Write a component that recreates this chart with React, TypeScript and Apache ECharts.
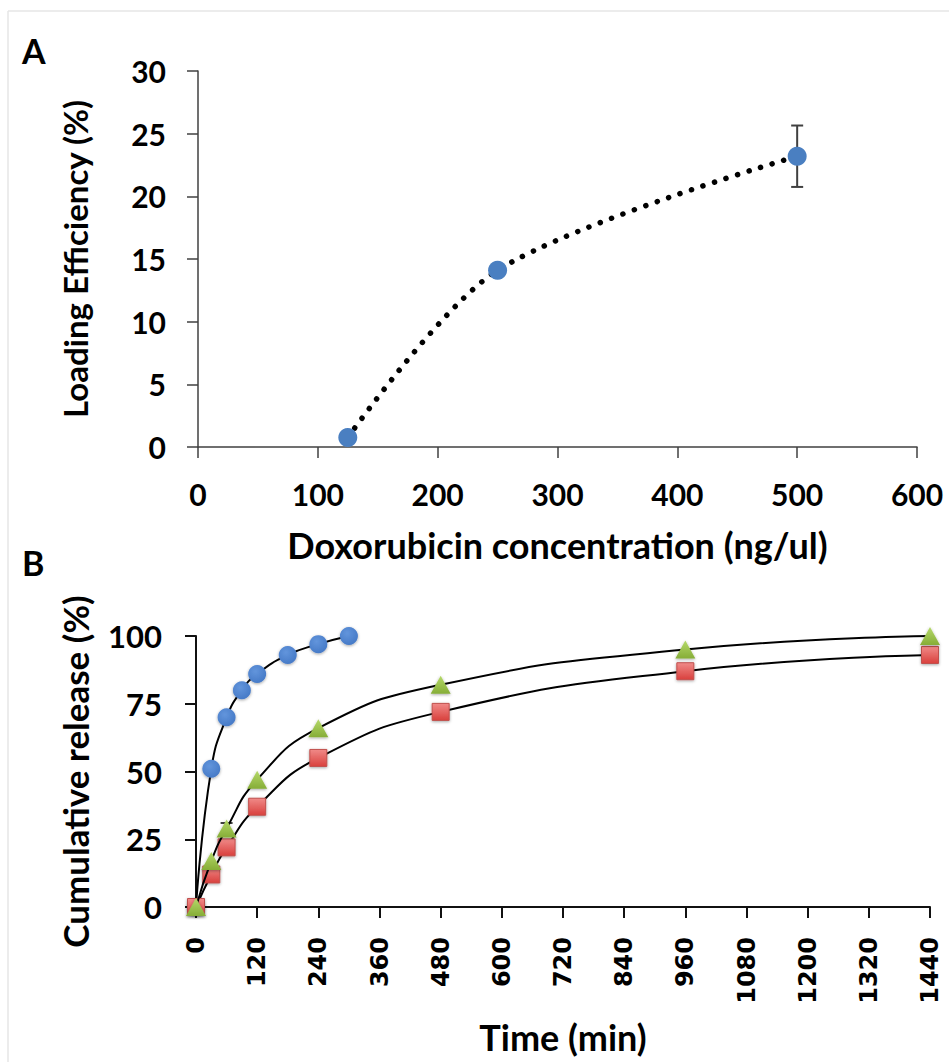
import React, { useEffect, useRef } from "react";
import * as echarts from "echarts";

// Panel A: loading efficiency
const concA = [125, 250, 500];
const effA = [0.75, 14.1, 23.2];
const effErrA = [0.2, 0.3, 2.45];

// Panel B: cumulative release
const timeBlue = [0, 30, 60, 90, 120, 180, 240, 300];
const releaseBlue = [0, 51, 70, 80, 86, 93, 97, 100];
const timeRG = [0, 30, 60, 120, 240, 480, 960, 1440];
const releaseGreen = [0, 17, 29, 47, 66, 82, 95, 100];
const releaseRed = [0, 12, 22, 37, 55, 72, 87, 93];
const errGreen = [0, 0, 2, 0, 0, 0, 0, 0];

const xTicksB = [0, 120, 240, 360, 480, 600, 720, 840, 960, 1080, 1200, 1320, 1440];

const FONT = "Lato";

function pairs(xs: number[], ys: number[]) {
  return xs.map((x, i) => [x, ys[i]]);
}

function errItem(params: any, api: any) {
  const x = api.value(0);
  const y = api.value(1);
  const e = api.value(2);
  if (!e) return null;
  const top = api.coord([x, y + e]);
  const bot = api.coord([x, y - e]);
  const half = 6;
  const style = { stroke: "#404040", lineWidth: 2 };
  return {
    type: "group",
    children: [
      { type: "line", shape: { x1: top[0], y1: top[1], x2: bot[0], y2: bot[1] }, style },
      { type: "line", shape: { x1: top[0] - half, y1: top[1], x2: top[0] + half, y2: top[1] }, style },
      { type: "line", shape: { x1: bot[0] - half, y1: bot[1], x2: bot[0] + half, y2: bot[1] }, style },
    ],
  };
}

export default function App() {
  const ref = useRef<HTMLDivElement>(null);
  useEffect(() => {
    document.body.style.margin = "0";
    const chart = echarts.init(ref.current!, null, { renderer: "svg" });
    const labelA = { fontFamily: FONT, fontWeight: "bold" as const, fontSize: 30, color: "#000" };
    const axisLineA = { show: true, lineStyle: { color: "#404040", width: 1.5 } };
    const axisLineB = { show: true, lineStyle: { color: "#111", width: 2 } };

    const blueGrad = new echarts.graphic.RadialGradient(0.4, 0.35, 0.7, [
      { offset: 0, color: "#6295dc" },
      { offset: 1, color: "#4579c6" },
    ]);
    const redGrad = new echarts.graphic.LinearGradient(0, 0, 0, 1, [
      { offset: 0, color: "#f08a88" },
      { offset: 1, color: "#d9403d" },
    ]);
    const greenGrad = new echarts.graphic.LinearGradient(0, 0, 0, 1, [
      { offset: 0, color: "#b5d96a" },
      { offset: 1, color: "#86ad37" },
    ]);

    chart.setOption({
      animation: false,
      backgroundColor: "#fff",
      grid: [
        { left: 198, top: 71, width: 719, height: 376 },
        { left: 196, top: 636, width: 734, height: 271 },
      ],
      xAxis: [
        {
          gridIndex: 0,
          type: "value",
          min: 0,
          max: 600,
          interval: 100,
          splitLine: { show: false },
          axisLine: axisLineA,
          axisTick: { show: true, length: 11, lineStyle: { color: "#404040", width: 1.5 } },
          axisLabel: { ...labelA, margin: 32 },
          name: "Doxorubicin concentration (ng/ul)",
          nameLocation: "middle",
          nameGap: 80,
          nameTextStyle: { fontFamily: FONT, fontWeight: "bold", fontSize: 36, color: "#000" },
        },
        {
          gridIndex: 1,
          type: "value",
          min: 0,
          max: 1440,
          interval: 120,
          splitLine: { show: false },
          axisLine: axisLineB,
          axisTick: { show: true, length: 11, lineStyle: { color: "#111", width: 2 } },
          axisLabel: {
            fontFamily: "DejaVu Sans",
            fontWeight: "bold",
            fontSize: 24,
            color: "#000",
            rotate: 90,
            margin: 30,
            formatter: (v: number) => (xTicksB.includes(v) ? String(v) : ""),
          },
          name: "Time (min)",
          nameLocation: "middle",
          nameGap: 112,
          nameTextStyle: { fontFamily: FONT, fontWeight: "bold", fontSize: 36, color: "#000" },
        },
      ],
      yAxis: [
        {
          gridIndex: 0,
          type: "value",
          min: 0,
          max: 30,
          interval: 5,
          splitLine: { show: false },
          axisLine: axisLineA,
          axisTick: { show: true, length: 11, lineStyle: { color: "#404040", width: 1.5 } },
          axisLabel: { ...labelA, margin: 32 },
          name: "Loading Efficiency (%)",
          nameLocation: "middle",
          nameRotate: 90,
          nameGap: 107,
          nameTextStyle: { fontFamily: FONT, fontWeight: "bold", fontSize: 33, color: "#000" },
        },
        {
          gridIndex: 1,
          type: "value",
          min: 0,
          max: 100,
          interval: 25,
          splitLine: { show: false },
          axisLine: axisLineB,
          axisTick: { show: true, length: 11, lineStyle: { color: "#111", width: 2 } },
          axisLabel: { ...labelA, fontSize: 31, margin: 34 },
          name: "Cumulative release (%)",
          nameLocation: "middle",
          nameRotate: 90,
          nameGap: 104,
          nameTextStyle: { fontFamily: FONT, fontWeight: "bold", fontSize: 35, color: "#000" },
        },
      ],
      graphic: [
        { type: "line", shape: { x1: 8, y1: 11, x2: 949, y2: 11 }, style: { stroke: "#e6e6e6", lineWidth: 1.5 } },
        { type: "line", shape: { x1: 8, y1: 11, x2: 8, y2: 1062 }, style: { stroke: "#e6e6e6", lineWidth: 1.5 } },
        { type: "text", left: 22, top: 33, style: { text: "A", font: `bold 34px ${FONT}`, fill: "#000" } },
        { type: "text", left: 22, top: 545, style: { text: "B", font: `bold 34px ${FONT}`, fill: "#000" } },
      ],
      series: [
        {
          type: "custom",
          xAxisIndex: 0,
          yAxisIndex: 0,
          z: 1,
          renderItem: errItem,
          data: concA.map((x, i) => [x, effA[i], effErrA[i]]),
        },
        {
          type: "line",
          xAxisIndex: 0,
          yAxisIndex: 0,
          z: 2,
          smooth: 0.3,
          data: pairs(concA, effA),
          symbol: "circle",
          symbolSize: 19,
          itemStyle: { color: "#4a7fc1" },
          lineStyle: { color: "#000", width: 5.5, type: [0.1, 12], cap: "round" },
        },
        {
          type: "line",
          xAxisIndex: 1,
          yAxisIndex: 1,
          z: 3,
          smooth: 0.5,
          data: pairs(timeBlue, releaseBlue),
          symbol: "circle",
          symbolSize: 18,
          itemStyle: { color: blueGrad, shadowBlur: 3, shadowColor: "rgba(0,0,0,0.35)", shadowOffsetY: 1 },
          lineStyle: { color: "#000", width: 2 },
        },
        {
          type: "line",
          xAxisIndex: 1,
          yAxisIndex: 1,
          z: 4,
          smooth: 0.5,
          data: pairs(timeRG, releaseRed),
          symbol: "rect",
          symbolSize: 17,
          itemStyle: { color: redGrad, borderColor: "#c0504d", borderWidth: 1, shadowBlur: 3, shadowColor: "rgba(0,0,0,0.35)", shadowOffsetY: 1 },
          lineStyle: { color: "#000", width: 2 },
        },
        {
          type: "custom",
          xAxisIndex: 1,
          yAxisIndex: 1,
          z: 4,
          renderItem: errItem,
          data: timeRG.map((x, i) => [x, releaseGreen[i], errGreen[i]]),
        },
        {
          type: "line",
          xAxisIndex: 1,
          yAxisIndex: 1,
          z: 5,
          smooth: 0.5,
          data: pairs(timeRG, releaseGreen),
          symbol: "triangle",
          symbolSize: [20, 18],
          itemStyle: { color: greenGrad, shadowBlur: 3, shadowColor: "rgba(0,0,0,0.35)", shadowOffsetY: 1 },
          lineStyle: { color: "#000", width: 2 },
        },
      ],
    });
    return () => chart.dispose();
  }, []);
  return <div ref={ref} style={{ width: 949, height: 1062 }} />;
}
